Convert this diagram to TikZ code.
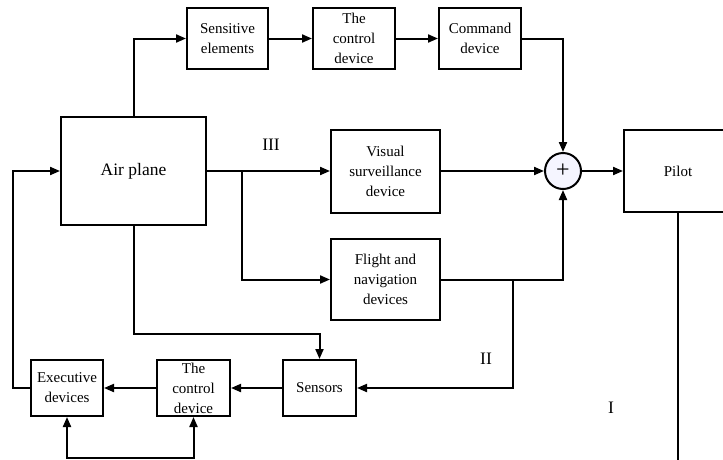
\documentclass[tikz,border=0pt]{standalone}
\usepackage{fontspec}
\setmainfont{Liberation Serif}
\usetikzlibrary{arrows.meta}
\begin{document}
\begin{tikzpicture}[x=1pt,y=-1pt,line width=2pt,
    >={Triangle[length=10pt,width=8pt]},
    blk/.style={draw,align=center,inner sep=0pt,font=\fontsize{15}{20}\selectfont},
    big/.style={font=\fontsize{17.5}{21}\selectfont}]
  \useasboundingbox (0,0) rectangle (723,459);
  % upper chain
  \node[blk,minimum width=81pt,minimum height=61pt] (sens) at (227.5,38.5) {Sensitive\\elements};
  \node[blk,minimum width=82pt,minimum height=61pt] (ctrl1) at (354,38.5) {The\\control\\device};
  \node[blk,minimum width=82pt,minimum height=61pt] (cmd) at (480,38.5) {Command\\device};
  % middle
  \node[blk,big,minimum width=145pt,minimum height=108pt] (plane) at (133.5,171) {Air plane};
  \node[blk,minimum width=109pt,minimum height=83pt] (visual) at (385.5,171) {Visual\\surveillance\\device};
  \node[draw,circle,fill=blue!4,minimum size=36pt,inner sep=0pt,font=\fontsize{24}{24}\selectfont] (sum) at (563,171) {+};
  \node[blk,minimum width=108pt,minimum height=82pt] (pilot) at (678,171) {Pilot};
  \node[blk,minimum width=109pt,minimum height=81pt] (flight) at (385.5,279.5) {Flight and\\navigation\\devices};
  % lower chain
  \node[blk,minimum width=73pt,minimum height=56pt] (sensors) at (319.5,388) {Sensors};
  \node[blk,minimum width=73pt,minimum height=56pt] (ctrl2) at (193.5,388) {The\\control\\device};
  \node[blk,minimum width=72pt,minimum height=56pt] (exec) at (67,388) {Executive\\devices};
  % loop labels
  \node[big] (l3) at (271,145) {III};
  \node[big] (l2) at (486,359) {II};
  \node[big] (l1) at (611,408) {I};
  \coordinate (br) at (242,171);
  \coordinate (jn) at (513,279.5);
  \begin{scope}[->]
    \draw (plane.north) |- (sens.west);
    \draw (sens) -- (ctrl1);
    \draw (ctrl1) -- (cmd);
    \draw (cmd.east) -| (sum.north);
    \draw (plane.east) -- (visual.west);
    \draw (br) |- (flight.west);
    \draw (visual.east) -- (sum.west);
    \draw (sum.east) -- (pilot.west);
    \draw (flight.east) -| (sum.south);
    \draw (jn) |- (sensors.east);
    \draw (plane.south) -- ++(0,108) -| (sensors.north);
    \draw (sensors) -- (ctrl2);
    \draw (ctrl2) -- (exec);
    \draw (exec.west) -- ++(-17,0) |- (plane.west);
    \draw[<->] (exec.south) -- ++(0,41) -| (ctrl2.south);
  \end{scope}
  \draw (pilot.south) -- ++(0,260);
\end{tikzpicture}
\end{document}
